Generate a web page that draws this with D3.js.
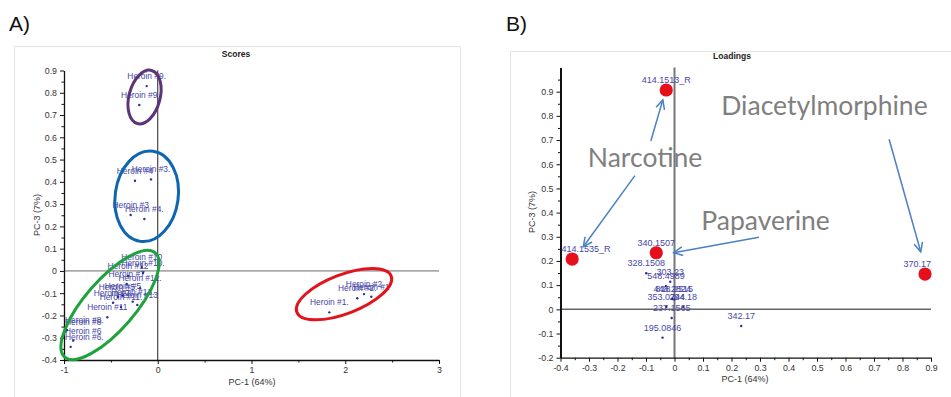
<!DOCTYPE html>
<html>
<head>
<meta charset="utf-8">
<script src="https://cdn.jsdelivr.net/npm/d3@7"></script>
<style>
  body { margin: 0; background: #fff; }
  svg { display: block; }
  text { font-family: "Liberation Sans", Arial, sans-serif; }
</style>
</head>
<body>
<svg id="chart" width="951" height="397"></svg>
<script>
// ---- Scores (PC-1 vs PC-3) ----
const scoreLabels = [
  "Heroin #9", "Heroin #9.",
  "Heroin #4", "Heroin #3.", "Heroin #3", "Heroin #4.",
  "Heroin #10", "Heroin #10.", "Heroin #12", "Heroin #7", "Heroin #12.",
  "Heroin #5", "Heroin #5.", "Heroin #13", "Heroin #13.", "Heroin #7.",
  "Heroin #11", "Heroin #11.", "Heroin #8", "Heroin #8.", "Heroin #6", "Heroin #6.",
  "Heroin #1.", "Heroin #2.", "Heroin #2", "Heroin #1"
];
const scorePC1 = [
  -0.197, -0.118,
  -0.243, -0.072, -0.289, -0.143,
  -0.171, -0.157, -0.317, -0.331, -0.189,
  -0.371, -0.424, -0.218, -0.267, -0.477,
  -0.538, -0.392, -0.986, -0.968, -0.901, -0.929,
  1.830, 2.128, 2.200, 2.278
];
const scorePC3 = [
  0.745, 0.830,
  0.405, 0.411, 0.251, 0.233,
  0.018, -0.009, -0.023, -0.059, -0.078,
  -0.111, -0.117, -0.153, -0.138, -0.143,
  -0.208, -0.162, -0.273, -0.265, -0.313, -0.341,
  -0.186, -0.123, -0.104, -0.116
];
const scoreTicksX = [-1, 0, 1, 2, 3];
const scoreTicksY = [-0.4, -0.3, -0.2, -0.1, 0, 0.1, 0.2, 0.3, 0.4, 0.5, 0.6, 0.7, 0.8, 0.9];

// Cluster rings drawn around the sample groups (centre in PC units)
const ringCentreX = [-0.141, -0.118, -0.509, 1.987];
const ringCentreY = [0.781, 0.335, -0.153, -0.104];
const ringColours = ["#5b3577", "#0f66b0", "#1ea33c", "#e3131d"];

// ---- Loadings ----
const loadingLabels = [
  "414.1513_R", "414.1535_R", "340.1507", "370.17",
  "328.1508", "303.23", "548.4989", "448.2824", "818.2515",
  "353.0744", "294.18", "237.1565", "195.0846", "342.17"
];
const loadingPC1 = [
  -0.029, -0.359, -0.064, 0.879,
  -0.099, -0.015, -0.030, -0.008, -0.001,
  -0.029, 0.031, -0.010, -0.042, 0.234
];
const loadingPC3 = [
  0.907, 0.208, 0.234, 0.146,
  0.149, 0.114, 0.096, 0.043, 0.041,
  0.010, 0.010, -0.036, -0.117, -0.069
];
const loadingMarked = [true, true, true, true, false, false, false, false, false, false, false, false, false, false];
const loadingTicksX = [-0.4, -0.3, -0.2, -0.1, 0, 0.1, 0.2, 0.3, 0.4, 0.5, 0.6, 0.7, 0.8, 0.9];
const loadingTicksY = [-0.2, -0.1, 0, 0.1, 0.2, 0.3, 0.4, 0.5, 0.6, 0.7, 0.8, 0.9];

// Compound call-outs with arrows (PC units)
const compoundNames = ["Diacetylmorphine", "Narcotine", "Papaverine"];
const compoundX = [0.164, -0.304, 0.094];
const compoundY = [0.803, 0.587, 0.328];
const arrowFromX = [-0.083, -0.139, 0.296, 0.753];
const arrowFromY = [0.696, 0.553, 0.298, 0.703];
const arrowToX = [-0.041, -0.320, -0.003, 0.864];
const arrowToY = [0.866, 0.259, 0.234, 0.238];

const svg = d3.select("#chart");
const fmt = d => String(Math.round(d * 10) / 10);
const labelColour = "#4646a8";
const dotColour = "#2c2c96";

function minorValues(lo, hi, step, majors) {
  const out = [];
  for (let v = lo; v <= hi + 1e-9; v += step) {
    const r = Math.round(v * 1000) / 1000;
    if (!majors.some(m => Math.abs(m - r) < 1e-6)) out.push(r);
  }
  return out;
}

function styleAxis(g, width) {
  g.select(".domain").attr("stroke", "#111").attr("stroke-width", width);
  g.selectAll(".tick line").attr("stroke", "#111");
  g.selectAll(".tick text").attr("fill", "#333").style("font-size", "8.8px")
    .style("font-family", "'Liberation Sans', Arial, sans-serif");
}

// Point labels sit above their point, kept inside the plot area
function drawLabels(g, xs, ys, labels, x, y, xr, offset, size) {
  labels.forEach((t, i) => {
    const px = x(xs[i]), py = y(ys[i]);
    const txt = g.append("text").text(t)
      .attr("y", py - offset)
      .attr("text-anchor", "middle")
      .attr("fill", labelColour)
      .style("font-size", size + "px");
    const hw = txt.node().getComputedTextLength() / 2;
    const cx = Math.max(xr[0] + hw + 1, Math.min(xr[1] - hw, px));
    txt.attr("x", cx);
  });
}

// Panel letters
svg.append("text").text("A)").attr("x", 9).attr("y", 31).style("font-size", "21px").attr("fill", "#111");
svg.append("text").text("B)").attr("x", 506).attr("y", 31).style("font-size", "21px").attr("fill", "#111");

// Panel frames
svg.append("rect").attr("x", 14.5).attr("y", 46.5).attr("width", 446).attr("height", 370)
  .attr("fill", "none").attr("stroke", "#e4e4e4");
svg.append("rect").attr("x", 510.5).attr("y", 51.5).attr("width", 450).attr("height", 370)
  .attr("fill", "none").attr("stroke", "#e4e4e4");

// ===================== Scores =====================
{
  const x = d3.scaleLinear().domain([-1, 3]).range([64, 439]);
  const y = d3.scaleLinear().domain([-0.4, 0.9]).range([360, 70.5]);
  const g = svg.append("g");

  g.append("text").text("Scores").attr("x", 236).attr("y", 57).attr("text-anchor", "middle")
    .style("font-size", "8.5px").style("font-weight", "bold").attr("fill", "#222");

  // zero lines
  g.append("line").attr("x1", x(-1)).attr("x2", x(3)).attr("y1", y(0)).attr("y2", y(0))
    .attr("stroke", "#6a6a6a").attr("stroke-width", 1);
  g.append("line").attr("x1", x(0)).attr("x2", x(0)).attr("y1", y(-0.4)).attr("y2", y(0.9))
    .attr("stroke", "#222").attr("stroke-width", 1);

  const ax = g.append("g").attr("transform", `translate(0,${y(-0.4)})`)
    .call(d3.axisBottom(x).tickValues(scoreTicksX).tickSize(4).tickSizeOuter(0).tickPadding(3).tickFormat(fmt));
  styleAxis(ax, 1.3);
  g.append("g").attr("transform", `translate(0,${y(-0.4)})`)
    .call(d3.axisBottom(x).tickValues(minorValues(-1, 3, 0.5, scoreTicksX)).tickSize(2.5).tickFormat(""))
    .call(s => { s.select(".domain").remove(); s.selectAll("line").attr("stroke", "#111"); });

  const ay = g.append("g").attr("transform", `translate(${x(-1)},0)`)
    .call(d3.axisLeft(y).tickValues(scoreTicksY).tickSize(4).tickSizeOuter(0).tickPadding(3).tickFormat(fmt));
  styleAxis(ay, 1.3);
  g.append("g").attr("transform", `translate(${x(-1)},0)`)
    .call(d3.axisLeft(y).tickValues(minorValues(-0.4, 0.9, 0.05, scoreTicksY)).tickSize(2.5).tickFormat(""))
    .call(s => { s.select(".domain").remove(); s.selectAll("line").attr("stroke", "#111"); });

  g.append("text").text("PC-1 (64%)").attr("x", 252).attr("y", 385).attr("text-anchor", "middle")
    .style("font-size", "9px").attr("fill", "#333");
  g.append("text").text("PC-3 (7%)").attr("transform", "translate(40,215) rotate(-90)")
    .attr("text-anchor", "middle").style("font-size", "9px").attr("fill", "#333");

  drawLabels(g, scorePC1, scorePC3, scoreLabels, x, y, [x(-1), x(3)], 7, 8.4);

  g.selectAll("circle.pt").data(scoreLabels).join("circle").attr("class", "pt")
    .attr("cx", (d, i) => x(scorePC1[i])).attr("cy", (d, i) => y(scorePC3[i]))
    .attr("r", 1.2).attr("fill", dotColour);

  // cluster rings: semi-axes and tilt in screen pixels
  const ringShape = [[15.5, 27.5, 15], [31.5, 45.5, 8], [69, 25, -49], [50.5, 19.5, -21]];
  ringColours.forEach((c, i) => {
    const [rx, ry, ang] = ringShape[i];
    g.append("ellipse")
      .attr("transform", `translate(${x(ringCentreX[i])},${y(ringCentreY[i])}) rotate(${ang})`)
      .attr("rx", rx).attr("ry", ry)
      .attr("fill", "none").attr("stroke", c).attr("stroke-width", 3);
  });
}

// ===================== Loadings =====================
{
  const x = d3.scaleLinear().domain([-0.4, 0.9]).range([560.5, 931]);
  const y = d3.scaleLinear().domain([-0.2, 1.0]).range([357.7, 67.5]);
  const g = svg.append("g");

  g.append("text").text("Loadings").attr("x", 732).attr("y", 59).attr("text-anchor", "middle")
    .style("font-size", "8.5px").style("font-weight", "bold").attr("fill", "#222");

  g.append("line").attr("x1", x(-0.4)).attr("x2", x(0.9)).attr("y1", y(0)).attr("y2", y(0))
    .attr("stroke", "#666").attr("stroke-width", 1.5);
  g.append("line").attr("x1", x(0)).attr("x2", x(0)).attr("y1", y(-0.2)).attr("y2", y(1.0))
    .attr("stroke", "#777").attr("stroke-width", 2);

  const ax = g.append("g").attr("transform", `translate(0,${y(-0.2)})`)
    .call(d3.axisBottom(x).tickValues(loadingTicksX).tickSize(4).tickSizeOuter(0).tickPadding(3).tickFormat(fmt));
  styleAxis(ax, 1.3);
  g.append("g").attr("transform", `translate(0,${y(-0.2)})`)
    .call(d3.axisBottom(x).tickValues(minorValues(-0.4, 0.9, 0.05, loadingTicksX)).tickSize(2.5).tickFormat(""))
    .call(s => { s.select(".domain").remove(); s.selectAll("line").attr("stroke", "#111"); });

  const ay = g.append("g").attr("transform", `translate(${x(-0.4)},0)`)
    .call(d3.axisLeft(y).tickValues(loadingTicksY).tickSize(4).tickSizeOuter(0).tickPadding(3).tickFormat(fmt));
  styleAxis(ay, 2);
  g.append("g").attr("transform", `translate(${x(-0.4)},0)`)
    .call(d3.axisLeft(y).tickValues(minorValues(-0.2, 0.95, 0.05, loadingTicksY)).tickSize(2.5).tickFormat(""))
    .call(s => { s.select(".domain").remove(); s.selectAll("line").attr("stroke", "#111"); });

  g.append("text").text("PC-1 (64%)").attr("x", 745).attr("y", 382).attr("text-anchor", "middle")
    .style("font-size", "9px").attr("fill", "#333");
  g.append("text").text("PC-3 (7%)").attr("transform", "translate(535,212) rotate(-90)")
    .attr("text-anchor", "middle").style("font-size", "9px").attr("fill", "#333");

  drawLabels(g, loadingPC1, loadingPC3, loadingLabels, x, y, [x(-0.4), x(0.9)], 7, 9);

  g.selectAll("circle.pt").data(loadingLabels).join("circle").attr("class", "pt")
    .attr("cx", (d, i) => x(loadingPC1[i])).attr("cy", (d, i) => y(loadingPC3[i]))
    .attr("r", (d, i) => loadingMarked[i] ? 6.6 : 1.2)
    .attr("fill", (d, i) => loadingMarked[i] ? "#e5101c" : dotColour);

  // call-out arrows with open heads
  const arrowColour = "#4a80c4";
  arrowFromX.forEach((_, i) => {
    const x1 = x(arrowFromX[i]), y1 = y(arrowFromY[i]);
    const x2 = x(arrowToX[i]), y2 = y(arrowToY[i]);
    const a = Math.atan2(y2 - y1, x2 - x1);
    const h = 10, spread = 0.45;
    g.append("line").attr("x1", x1).attr("y1", y1).attr("x2", x2).attr("y2", y2)
      .attr("stroke", arrowColour).attr("stroke-width", 1.5);
    g.append("path")
      .attr("d", `M${x2 - h * Math.cos(a - spread)},${y2 - h * Math.sin(a - spread)} L${x2},${y2} L${x2 - h * Math.cos(a + spread)},${y2 - h * Math.sin(a + spread)}`)
      .attr("fill", "none").attr("stroke", arrowColour).attr("stroke-width", 1.5)
      .attr("stroke-linejoin", "miter");
  });

  compoundNames.forEach((t, i) => {
    g.append("text").text(t).attr("x", x(compoundX[i])).attr("y", y(compoundY[i]))
      .style("font-family", "Lato, 'Open Sans', sans-serif").style("font-size", "26.5px")
      .attr("fill", "#7f7f7f");
  });
}
</script>
</body>
</html>
